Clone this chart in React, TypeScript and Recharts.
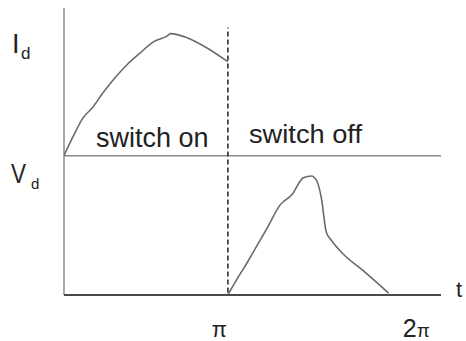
import React from "react"
import { ComposedChart, Line, XAxis, YAxis, ReferenceLine, Customized } from "recharts"

// t is measured in units of pi
const idT = [0, 0.055, 0.116, 0.177, 0.238, 0.3, 0.384, 0.463, 0.543, 0.628, 0.65, 0.75, 0.87, 1.0]
const idValues = [0, 15.6, 31, 40, 51.6, 62, 74.5, 84, 93, 98, 100, 96.7, 88.5, 77]

const vdT = [1.0, 1.01, 1.06, 1.12, 1.18, 1.24, 1.32, 1.39, 1.46, 1.51, 1.54, 1.57, 1.6, 1.63, 1.7, 1.82, 1.98]
const vdValues = [0, 2.5, 14, 27, 41, 55, 74, 82, 96, 97.5, 94, 79.5, 51.6, 45, 34, 20.5, 1.6]

const xTicks = [1, 2]
const xTickLabels = ["π", "2π"]

const idData = idT.map((t, i) => ({ t, id: idValues[i] }))
const vdData = vdT.map((t, i) => ({ t, vd: vdValues[i] }))

const font = "'Liberation Sans', Arial, sans-serif"
const curveColor = "#6a6a6a"

function TimeTick(props: any) {
  const { x, y, payload } = props
  const idx = xTicks.indexOf(payload.value)
  if (idx === 0) {
    return (
      <text x={x - 1} y={y + 34} textAnchor="end" fontFamily={font} fontSize={22} fill="#222">
        {xTickLabels[idx]}
      </text>
    )
  }
  return (
    <text x={x + 11} y={y + 34} textAnchor="start" fontFamily={font} fill="#222">
      <tspan fontSize={25}>2</tspan>
      <tspan fontSize={19}>π</tspan>
    </text>
  )
}

function Labels() {
  return (
    <g fontFamily={font} fill="#222">
      <text x={12} y={53} fontSize={27}>I</text>
      <text x={21} y={59} fontSize={17}>d</text>
      <text x={11} y={183} fontSize={27} textLength={15} lengthAdjust="spacingAndGlyphs">V</text>
      <text x={31} y={189} fontSize={15}>d</text>
      <text x={96} y={147} fontSize={27}>switch on</text>
      <text x={249} y={143} fontSize={26} textLength={113} lengthAdjust="spacingAndGlyphs">switch off</text>
      <text x={456} y={297} fontSize={22}>t</text>
    </g>
  )
}

export default function App() {
  return (
    <div style={{ position: "absolute", left: 0, top: 0, background: "#fff" }}>
      <ComposedChart width={466} height={341} margin={{ top: 8, right: 25, bottom: 16, left: 64 }}>
        <XAxis
          type="number"
          dataKey="t"
          domain={[0, 2.3]}
          ticks={xTicks}
          tick={<TimeTick />}
          tickLine={false}
          axisLine={{ stroke: "#4a4a4a", strokeWidth: 2 }}
          height={30}
          allowDataOverflow
        />
        <YAxis yAxisId="id" hide domain={[-114, 121]} allowDataOverflow />
        <YAxis yAxisId="vd" hide domain={[0, 235]} allowDataOverflow />
        <ReferenceLine yAxisId="vd" x={0} stroke="#8c8c8c" strokeWidth={1.5} />
        <ReferenceLine yAxisId="id" y={0} stroke="#8c8c8c" strokeWidth={1.5} />
        <ReferenceLine
          yAxisId="vd"
          segment={[{ x: 1, y: 2 }, { x: 1, y: 219 }]}
          stroke="#222"
          strokeWidth={1.5}
          strokeDasharray="5 3"
        />
        <Line
          yAxisId="id"
          data={idData}
          dataKey="id"
          type="monotone"
          stroke={curveColor}
          strokeWidth={1.6}
          dot={false}
          isAnimationActive={false}
        />
        <Line
          yAxisId="vd"
          data={vdData}
          dataKey="vd"
          type="monotone"
          stroke={curveColor}
          strokeWidth={1.6}
          dot={false}
          isAnimationActive={false}
        />
        <Customized component={<Labels />} />
      </ComposedChart>
    </div>
  )
}
